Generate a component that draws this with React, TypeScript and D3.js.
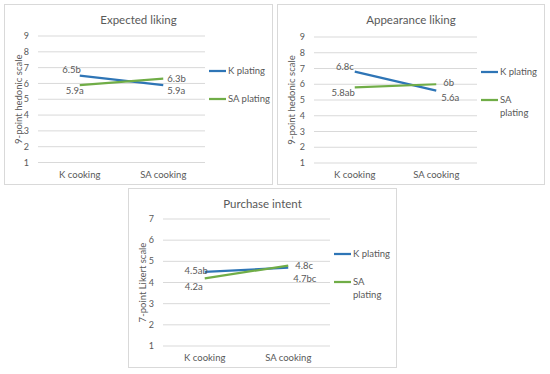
import React from 'react';
import * as d3 from 'd3';

const categories = ['K cooking', 'SA cooking'];
const seriesNames = ['K plating', 'SA plating'];

const expectedK = [6.5, 5.9];
const expectedSA = [5.9, 6.3];
const expectedLabels = [['6.5b', '5.9a'], ['5.9a', '6.3b']];

const appearanceK = [6.8, 5.6];
const appearanceSA = [5.8, 6];
const appearanceLabels = [['6.8c', '5.6a'], ['5.8ab', '6b']];

const purchaseK = [4.5, 4.7];
const purchaseSA = [4.2, 4.8];
const purchaseLabels = [['4.5ab', '4.7bc'], ['4.2a', '4.8c']];

const colors = ['#2e75b6', '#70ad47'];
const font = 'Lato, "Open Sans", sans-serif';
const textColor = '#595959';

// label placement per point: [dx, dy, anchor]
type Place = [number, number, string];

const Panel = ({ box, plot, title, yTitle, yMax, values, labels, places, wrapLegend }: any) => {
  const x = d3.scaleBand().domain(categories).range([plot.x0, plot.x1]);
  const y = d3.scaleLinear().domain([1, yMax]).range([plot.y1, plot.y0]);
  const line = d3.line<number>()
    .x((d, i) => x(categories[i])! + x.bandwidth() / 2)
    .y(d => y(d));
  const ticks = d3.range(1, yMax + 1);

  return (
    <g>
      <rect x={box.x} y={box.y} width={box.w} height={box.h} fill="#fff" stroke="#d9d9d9" strokeWidth={1} />
      <text x={box.x + box.w / 2} y={box.y + 19} textAnchor="middle" fontSize={11.5} fill={textColor} fontFamily={font}>{title}</text>
      {ticks.map(t => (
        <g key={t}>
          <line x1={plot.x0} x2={plot.x1} y1={y(t)} y2={y(t)} stroke="#d9d9d9" strokeWidth={1} />
          <text x={plot.x0 - 9} y={y(t)} dy="0.35em" textAnchor="end" fontSize={9} fill={textColor} fontFamily={font}>{t}</text>
        </g>
      ))}
      <text transform={`translate(${box.x + 14},${(plot.y0 + plot.y1) / 2}) rotate(-90)`} textAnchor="middle" dy="0.35em" fontSize={9.5} fill={textColor} fontFamily={font}>{yTitle}</text>
      {categories.map(c => (
        <text key={c} x={x(c)! + x.bandwidth() / 2} y={plot.y1 + 15} textAnchor="middle" fontSize={9.5} fill={textColor} fontFamily={font}>{c}</text>
      ))}
      {values.map((v: number[], s: number) => (
        <path key={s} d={line(v)!} fill="none" stroke={colors[s]} strokeWidth={2.25} />
      ))}
      {values.map((v: number[], s: number) => v.map((d, i) => {
        const p: Place = places[s][i];
        return (
          <text key={`${s}-${i}`} x={x(categories[i])! + x.bandwidth() / 2 + p[0]} y={y(d) + p[1]} dy="0.35em" textAnchor={p[2]} fontSize={9.5} fill={textColor} fontFamily={font}>{labels[s][i]}</text>
        );
      }))}
      {seriesNames.map((n, s) => {
        const ly = plot.y0 + 35 + s * 28;
        const parts = wrapLegend && s === 1 ? ['SA', 'plating'] : [n];
        return (
          <g key={n}>
            <line x1={plot.x1 + 4} x2={plot.x1 + 21} y1={ly} y2={ly} stroke={colors[s]} strokeWidth={2.25} />
            {parts.map((t, k) => (
              <text key={t} x={plot.x1 + 23} y={ly + k * 13} dy="0.35em" fontSize={9.5} fill={textColor} fontFamily={font}>{t}</text>
            ))}
          </g>
        );
      })}
    </g>
  );
};

export default function App() {
  return (
    <svg width={550} height={374} style={{ position: 'absolute', left: 0, top: 0, background: '#fff' }}>
      <rect width={550} height={374} fill="#fff" />
      <Panel
        box={{ x: 4.5, y: 4.5, w: 268, h: 180 }}
        plot={{ x0: 38, x1: 205, y0: 36, y1: 162.5 }}
        title="Expected liking"
        yTitle="9-point hedonic scale"
        yMax={9}
        values={[expectedK, expectedSA]}
        labels={expectedLabels}
        places={[[[1, -6, 'end'], [4, 6, 'start']], [[4, 6, 'end'], [4, 0, 'start']]]}
      />
      <Panel
        box={{ x: 277.5, y: 4.5, w: 267, h: 180 }}
        plot={{ x0: 314, x1: 477, y0: 37, y1: 163 }}
        title="Appearance liking"
        yTitle="9-point hedonic scale"
        yMax={9}
        values={[appearanceK, appearanceSA]}
        labels={appearanceLabels}
        places={[[[-1, -5, 'end'], [5, 7, 'start']], [[0, 5, 'end'], [7, -2, 'start']]]}
        wrapLegend
      />
      <Panel
        box={{ x: 128.5, y: 188.5, w: 268, h: 179 }}
        plot={{ x0: 163, x1: 330, y0: 219, y1: 346 }}
        title="Purchase intent"
        yTitle="7-point Likert scale"
        yMax={7}
        values={[purchaseK, purchaseSA]}
        labels={purchaseLabels}
        places={[[[3, -1, 'end'], [5, 11, 'start']], [[-2, 8, 'end'], [7, 0, 'start']]]}
        wrapLegend
      />
    </svg>
  );
}
